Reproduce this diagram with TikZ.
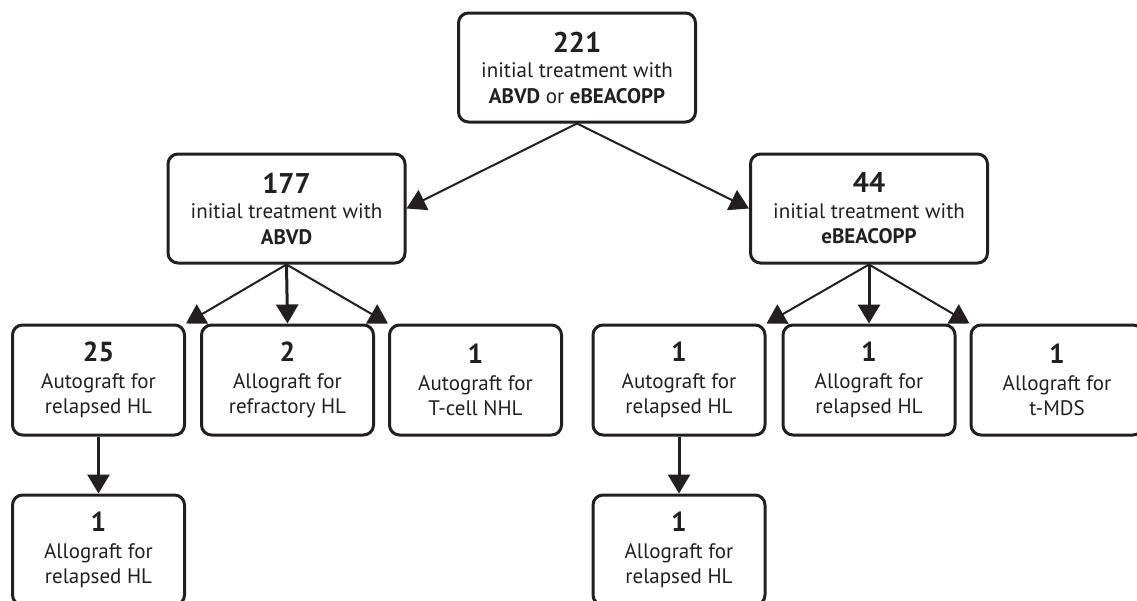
\documentclass[tikz,border=0pt]{standalone}
\usepackage{fontspec}
\setmainfont{PT Sans}
\usetikzlibrary{arrows.meta,backgrounds}
\definecolor{ink}{HTML}{231F20}
\newcommand\nbig[1]{{\fontsize{28.5}{28.5}\selectfont\bfseries #1}}
\newcommand\nmid[1]{{\fontsize{27.5}{27.5}\selectfont\bfseries #1}}
\begin{document}
\begin{tikzpicture}[x=1pt,y=-1pt,
  box/.style={draw=ink,line width=3pt,rounded corners=10pt,fill=white,
    align=center,inner sep=0pt,text=ink,
    font=\fontsize{21}{25.5}\selectfont},
  bigbox/.style={box,minimum width=237pt,minimum height=109pt},
  smallbox/.style={box,minimum width=172pt,minimum height=110pt},
  arr/.style={draw=ink,line width=2pt,-{Triangle[width=22pt,length=19pt]}},
  varr/.style={arr,line width=3pt}]
\useasboundingbox (0,0) rectangle (1137,600);
\node[bigbox] (n221) at (577,67.5) {\nbig{221}\\[0pt] initial treatment with\\ \textbf{ABVD} or \textbf{eBEACOPP}};
\node[bigbox] (n177) at (286.5,208.5) {\nbig{177}\\[0pt] initial treatment with\\ \textbf{ABVD}};
\node[bigbox] (n44) at (869,208.5) {\nbig{44}\\[0pt] initial treatment with\\ \textbf{eBEACOPP}};
\node[smallbox] (a25) at (98.5,380) {\nmid{25}\\[1pt] Autograft for\\ relapsed HL};
\node[smallbox] (a2) at (287.5,380) {\nmid{2}\\[1pt] Allograft for\\ refractory HL};
\node[smallbox] (a1) at (475.5,380) {\nmid{1}\\[1pt] Autograft for\\ T-cell NHL};
\node[smallbox] (b1) at (679,380) {\nmid{1}\\[1pt] Autograft for\\ relapsed HL};
\node[smallbox] (b2) at (869,380) {\nmid{1}\\[1pt] Allograft for\\ relapsed HL};
\node[smallbox] (b3) at (1057,380) {\nmid{1}\\[1pt] Allograft for\\ t-MDS};
\node[smallbox] (c1) at (98.5,550) {\nmid{1}\\[1pt] Allograft for\\ relapsed HL};
\node[smallbox] (c2) at (679,550) {\nmid{1}\\[1pt] Allograft for\\ relapsed HL};
\begin{scope}[on background layer]
\draw[arr] (n221.south) -- (n177.east);
\draw[arr] (n221.south) -- (n44.west);
\draw[arr] (n177.south) -- (a25.north east);
\draw[varr] (n177.south) -- (a2.north);
\draw[arr] (n177.south) -- (a1.north west);
\draw[arr] (n44.south) -- (b1.north east);
\draw[varr] (n44.south) -- (b2.north);
\draw[arr] (n44.south) -- (b3.north west);
\draw[varr] (a25.south) -- (c1.north);
\draw[varr] (b1.south) -- (c2.north);
\end{scope}
\end{tikzpicture}
\end{document}
